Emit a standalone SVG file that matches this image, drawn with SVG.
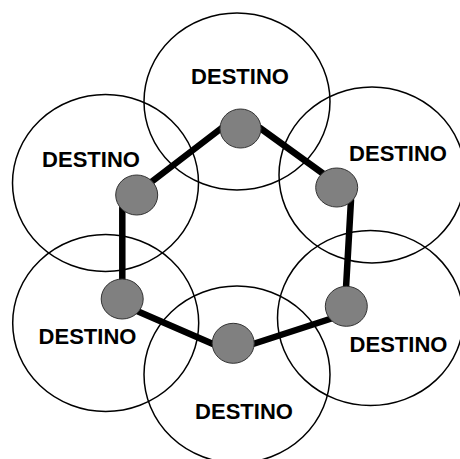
<svg xmlns="http://www.w3.org/2000/svg" width="460" height="459" viewBox="0 0 460 459">
<style>
.zone{fill:none;stroke:#000;stroke-width:1.5}
.dot{fill:#808080;stroke:#333;stroke-width:1}
.lbl{font-family:"Liberation Sans",Arial,sans-serif;font-weight:bold;font-size:22px;fill:#000;text-anchor:middle}
.link{stroke:#000;stroke-width:6.5;stroke-linecap:round;fill:none}
</style>
<rect width="460" height="459" fill="#fff"/>
<g id="node-top"><ellipse class="zone" cx="237" cy="101.5" rx="93" ry="88.5"/><text class="lbl" x="240" y="83.5">DESTINO</text></g>
<g id="node-upper-left"><ellipse class="zone" cx="105.5" cy="183" rx="93" ry="88.5"/><text class="lbl" x="91" y="166.5">DESTINO</text></g>
<g id="node-upper-right"><ellipse class="zone" cx="372" cy="175" rx="93" ry="88"/><text class="lbl" x="398" y="160.5">DESTINO</text></g>
<g id="node-lower-left"><ellipse class="zone" cx="105.7" cy="323" rx="93" ry="88.5"/><text class="lbl" x="87.5" y="344">DESTINO</text></g>
<g id="node-lower-right"><ellipse class="zone" cx="370.5" cy="318" rx="93" ry="87.5"/><text class="lbl" x="398.5" y="352.3">DESTINO</text></g>
<g id="node-bottom"><ellipse class="zone" cx="237" cy="374.5" rx="93" ry="88.5"/><text class="lbl" x="244" y="419">DESTINO</text></g>
<g id="connectors">
<line class="link" x1="221.7" y1="128" x2="150" y2="183"/>
<line class="link" x1="260" y1="128" x2="325" y2="175"/>
<line class="link" x1="351" y1="200" x2="346" y2="288"/>
<line class="link" x1="333" y1="318" x2="253" y2="344"/>
<line class="link" x1="213" y1="344" x2="137" y2="311"/>
<line class="link" x1="122.3" y1="281" x2="122.3" y2="208"/>
</g>
<g id="dots">
<ellipse class="dot" cx="240.5" cy="128.5" rx="20.5" ry="19.5"/>
<ellipse class="dot" cx="336.7" cy="187.5" rx="21" ry="19.5"/>
<ellipse class="dot" cx="136.7" cy="195" rx="21" ry="20"/>
<ellipse class="dot" cx="122.2" cy="299" rx="21" ry="20"/>
<ellipse class="dot" cx="233.2" cy="343.3" rx="21" ry="20"/>
<ellipse class="dot" cx="346.3" cy="306.3" rx="21" ry="20"/>
</g>
</svg>
